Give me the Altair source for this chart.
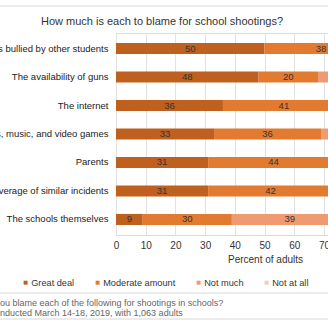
import altair as alt
import pandas as pd

categories = [
    "Students bullied by other students",
    "The availability of guns",
    "The internet",
    "Movies, music, and video games",
    "Parents",
    "News coverage of similar incidents",
    "The schools themselves",
]
levels = ["Great deal", "Moderate amount", "Not much", "Not at all"]
great_deal = [50, 48, 36, 33, 31, 31, 9]
moderate_amount = [38, 20, 41, 36, 44, 42, 30]
not_much = [8, 16, 15, 20, 17, 19, 39]
not_at_all = [4, 16, 8, 11, 8, 8, 22]
x_ticks = [0, 10, 20, 30, 40, 50, 60, 70]
colors = ["#c0601f", "#e27b30", "#f09a72", "#f6c9bd"]

title_text = "How much is each to blame for school shootings?"
footer_lines = [
    "How much do you blame each of the following for shootings in schools?",
    "Survey conducted March 14-18, 2019, with 1,063 adults",
]

series = [great_deal, moderate_amount, not_much, not_at_all]
rows = []
for i, cat in enumerate(categories):
    for j, lvl in enumerate(levels):
        rows.append({"category": cat, "level": lvl, "order": j, "value": series[j][i]})
df = pd.DataFrame(rows)

FONT = "Liberation Sans"
xdom = [0, 71.35]

base = alt.Chart(df).transform_stack(
    stack="value", groupby=["category"], as_=["x0", "x1"],
    sort=[alt.SortField("order", order="ascending")],
).transform_calculate(mid="(datum.x0 + datum.x1) / 2")

yaxis = alt.Axis(title=None, labelFontSize=9.5, labelColor="#222", labelPadding=8,
                 ticks=False, domain=False, labelLimit=300, labelFont=FONT)
yscale = alt.Scale(paddingInner=0.61, paddingOuter=0.35)
xscale = alt.Scale(domain=xdom, nice=False, zero=True)
xaxis = alt.Axis(values=x_ticks, tickCount=8, grid=True,
                 gridColor="#e2e2e2", domain=False, ticks=False,
                 labelOverlap=False, labelFlush=False,
                 labelFontSize=10, labelColor="#333", labelPadding=5,
                 labelFont=FONT, title="Percent of adults",
                 titleFontSize=10, titleFontWeight="normal", titleColor="#333",
                 titleFont=FONT, titleX=149, titleY=24,
                 titleAlign="center", titleBaseline="middle")

bars = base.mark_bar(clip=True).encode(
    x=alt.X("x0:Q", scale=xscale, axis=xaxis),
    x2="x1:Q",
    y=alt.Y("category:N", sort=categories, scale=yscale, axis=yaxis),
    color=alt.Color("level:N", scale=alt.Scale(domain=levels, range=colors),
                    legend=alt.Legend(title=None, orient="none", legendX=-95, legendY=245,
                                      direction="horizontal", symbolType="square",
                                      symbolSize=16, symbolStrokeWidth=0,
                                      labelFontSize=9.2, labelFont=FONT, labelColor="#333",
                                      labelOffset=1, columnPadding=18)),
)

labels = base.mark_text(clip=True, fontSize=9.5, color="#333", font=FONT).encode(
    x=alt.X("mid:Q", scale=xscale, axis=xaxis),
    y=alt.Y("category:N", sort=categories, scale=yscale, axis=yaxis),
    text="value:Q",
)

line_df = pd.DataFrame({"k": [0]})
top_rule = alt.Chart(line_df).mark_rule(color="#d8d8d8", strokeWidth=1).encode(
    x=alt.value(-116), x2=alt.value(212), y=alt.value(-27))
foot_rule1 = alt.Chart(line_df).mark_rule(color="#d8d8d8", strokeWidth=1).encode(
    x=alt.value(-116), x2=alt.value(212), y=alt.value(260))
foot_rule2 = alt.Chart(line_df).mark_rule(color="#d8d8d8", strokeWidth=1).encode(
    x=alt.value(-116), x2=alt.value(212), y=alt.value(286))

title_mark = alt.Chart(pd.DataFrame({"t": [title_text]})).mark_text(
    align="center", baseline="middle", fontSize=11, color="#333", font=FONT).encode(
    text="t:N", x=alt.value(46), y=alt.value(-11))

foot1 = alt.Chart(pd.DataFrame({"t": [footer_lines[0]]})).mark_text(
    align="left", baseline="middle", fontSize=9, color="#666", font=FONT).encode(
    text="t:N", x=alt.value(-178), y=alt.value(270))
foot2 = alt.Chart(pd.DataFrame({"t": [footer_lines[1]]})).mark_text(
    align="left", baseline="middle", fontSize=9, color="#666", font=FONT).encode(
    text="t:N", x=alt.value(-156), y=alt.value(280))

chart = alt.layer(bars, labels, top_rule, foot_rule1, foot_rule2, title_mark, foot1, foot2).properties(
    width=212, height=202,
    autosize=alt.AutoSizeParams(type="none"),
    padding={"left": 116, "top": 33, "right": 0, "bottom": 93},
).configure_view(stroke=None).configure(background="white")

chart.save("out.html", embed_options={"renderer": "svg", "actions": False})
